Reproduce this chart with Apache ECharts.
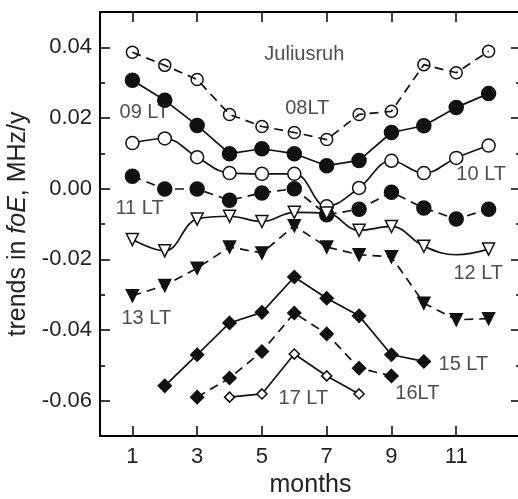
<!DOCTYPE html>
<html>
<head>
<meta charset="utf-8">
<script src="https://cdn.jsdelivr.net/npm/echarts@6/dist/echarts.min.js"></script>
<style>
html,body{margin:0;padding:0;background:#fff;}
#c{width:518px;height:499px;}
</style>
</head>
<body>
<div id="c"></div>
<script>
// ---- data ----
const months = [1, 2, 3, 4, 5, 6, 7, 8, 9, 10, 11, 12];
const lt08 = [0.0386, 0.0349, 0.0309, 0.0210, 0.0176, 0.0159, 0.0139, 0.0210, 0.0219, 0.0351, 0.0328, 0.0389];
const lt09 = [0.0307, 0.0250, 0.0179, 0.0099, 0.0113, 0.0099, 0.0065, 0.0080, 0.0159, 0.0178, 0.0230, 0.0269];
const lt10 = [0.0129, 0.0142, 0.0089, 0.0044, 0.0042, 0.0042, -0.0050, 0.0002, 0.0079, 0.0044, 0.0087, 0.0122];
const lt11 = [0.0035, -0.0001, -0.0001, -0.0033, -0.0012, 0.0000, -0.0074, -0.0058, -0.0010, -0.0055, -0.0086, -0.0058];
const lt12 = [-0.0144, -0.0176, -0.0086, -0.0078, -0.0093, -0.0067, -0.0069, -0.0118, -0.0107, -0.0163, -0.0187, -0.0171];
const lt12Unmarked = [11];
const lt13 = [-0.0303, -0.0274, -0.0225, -0.0165, -0.0182, -0.0105, -0.0165, -0.0187, -0.0193, -0.0324, -0.0371, -0.0368];
const lt15 = [null, -0.0558, -0.0470, -0.0380, -0.0350, -0.0250, -0.0310, -0.0360, -0.0470, -0.0489, null, null];
const lt16 = [null, null, -0.0590, -0.0536, -0.0461, -0.0352, -0.0411, -0.0508, -0.0530, null, null, null];
const lt17 = [null, null, null, -0.0590, -0.0581, -0.0468, -0.0530, -0.0581, null, null, null, null];

const xTicks = [1, 3, 5, 7, 9, 11];
const yTicks = [-0.06, -0.04, -0.02, 0.00, 0.02, 0.04];
const yMinorTicks = [-0.05, -0.03, -0.01, 0.01, 0.03];

const annotations = [
  { name: 'Juliusruh', value: [6.31, 0.0380] },
  { name: '08LT', value: [6.40, 0.0227] },
  { name: '09 LT', value: [1.37, 0.0215] },
  { name: '10 LT', value: [11.77, 0.0040] },
  { name: '11 LT', value: [1.22, -0.0057] },
  { name: '12 LT', value: [11.68, -0.0241] },
  { name: '13 LT', value: [1.43, -0.0366] },
  { name: '15 LT', value: [11.22, -0.0499] },
  { name: '16LT', value: [9.80, -0.0581] },
  { name: '17 LT', value: [6.28, -0.0595] }
];

// ---- helpers ----
const FONT = 'Liberation Sans';
const INK = '#111';
function pairs(vals, unmarked) {
  const out = [];
  vals.forEach((v, i) => {
    if (v === null) return;
    if (unmarked && unmarked.indexOf(months[i]) >= 0) {
      out.push({ value: [months[i], v], symbol: 'none' });
    } else {
      out.push([months[i], v]);
    }
  });
  return out;
}
function line(name, vals, opt) {
  return {
    name: name,
    type: 'line',
    data: pairs(vals, opt.unmarked),
    symbol: opt.symbol,
    symbolSize: opt.size,
    symbolRotate: opt.rotate || 0,
    smooth: opt.smooth || false,
    showAllSymbol: true,
    lineStyle: { color: INK, width: opt.width || 1.7, type: opt.dash ? [9, 6] : 'solid' },
    itemStyle: { color: opt.fill, borderColor: INK, borderWidth: opt.bw || 1.5 },
    emphasis: { disabled: true },
    z: 3
  };
}

const chart = echarts.init(document.getElementById('c'), null, { renderer: 'canvas' });
const axisLineStyle = { show: true, onZero: false, lineStyle: { color: '#000', width: 2 } };
function tick(vals, len) {
  return { show: true, inside: true, length: len, customValues: vals, lineStyle: { color: '#000', width: 1.5 } };
}
const option = {
  animation: false,
  backgroundColor: '#fff',
  textStyle: { fontFamily: FONT },
  grid: { left: 100, right: -3, top: 12, bottom: 63, containLabel: false, outerBoundsMode: 'none' },
  xAxis: [
    {
      type: 'value', min: 0, max: 13, position: 'bottom',
      axisLine: axisLineStyle,
      axisTick: tick(xTicks, 10),
      axisLabel: { customValues: xTicks, fontSize: 22, color: '#222', fontFamily: FONT, margin: 10 },
      splitLine: { show: false },
      name: 'months', nameLocation: 'middle', nameGap: 37,
      nameTextStyle: { fontSize: 25, color: '#222', fontFamily: FONT }
    },
    {
      type: 'value', min: 0, max: 13, position: 'top',
      axisLine: axisLineStyle,
      axisTick: tick(xTicks, 10),
      axisLabel: { show: false },
      splitLine: { show: false }
    }
  ],
  yAxis: [
    {
      type: 'value', min: -0.07, max: 0.05, position: 'left',
      axisLine: axisLineStyle,
      axisTick: tick(yTicks, 10),
      axisLabel: { customValues: yTicks, fontSize: 22, color: '#222', fontFamily: FONT, margin: 8,
        formatter: v => v.toFixed(2) },
      splitLine: { show: false },
      name: '{a|trends in }{i|foE}{a|, MHz/y}', nameLocation: 'middle', nameGap: 64,
      nameTextStyle: { color: '#222', rich: {
        a: { fontSize: 25, fontFamily: FONT, color: '#222' },
        i: { fontSize: 25, fontFamily: FONT, color: '#222', fontStyle: 'italic' }
      } }
    },
    {
      type: 'value', min: -0.07, max: 0.05, position: 'left',
      axisLine: { show: false, onZero: false },
      axisTick: tick(yMinorTicks, 5),
      axisLabel: { show: false },
      splitLine: { show: false }
    },
    {
      type: 'value', min: -0.07, max: 0.05, position: 'right',
      axisLine: axisLineStyle,
      axisTick: tick(yTicks, 10),
      axisLabel: { show: false },
      splitLine: { show: false }
    },
    {
      type: 'value', min: -0.07, max: 0.05, position: 'right',
      axisLine: { show: false, onZero: false },
      axisTick: tick(yMinorTicks, 5),
      axisLabel: { show: false },
      splitLine: { show: false }
    }
  ],
  series: [
    line('08LT', lt08, { symbol: 'circle', size: 12, fill: 'rgba(0,0,0,0)', dash: true }),
    line('09LT', lt09, { symbol: 'circle', size: 14, fill: INK }),
    line('10LT', lt10, { symbol: 'circle', size: 13, fill: '#fff', smooth: 0.4 }),
    line('11LT', lt11, { symbol: 'circle', size: 14, fill: INK, dash: true }),
    line('12LT', lt12, { symbol: 'triangle', size: 12, rotate: 180, fill: '#fff', smooth: 0.4, unmarked: lt12Unmarked }),
    line('13LT', lt13, { symbol: 'triangle', size: 12, rotate: 180, fill: INK, dash: true }),
    line('15LT', lt15, { symbol: 'diamond', size: 13, fill: INK }),
    line('16LT', lt16, { symbol: 'diamond', size: 13, fill: INK, dash: true }),
    line('17LT', lt17, { symbol: 'diamond', size: 10, fill: '#fff', bw: 1.6 }),
    {
      type: 'scatter',
      data: annotations,
      symbolSize: 1,
      itemStyle: { color: 'rgba(0,0,0,0)' },
      silent: true,
      z: 10,
      label: { show: true, position: 'inside', formatter: '{b}', fontSize: 20, color: '#222', fontFamily: FONT }
    }
  ]
};
chart.setOption(option);
</script>
</body>
</html>
